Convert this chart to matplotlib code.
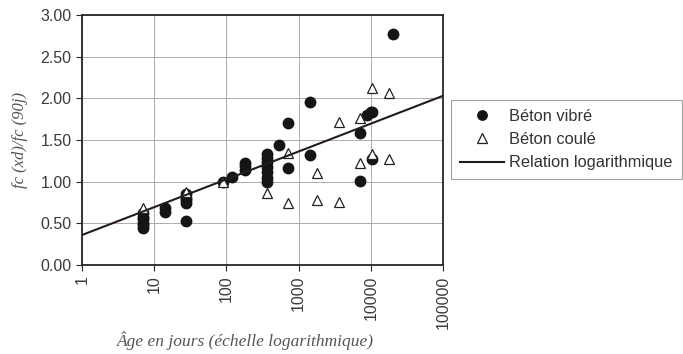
import matplotlib.pyplot as plt
import numpy as np

# Béton vibré (age in days, fc(xd)/fc(90j))
vibre_age = [7, 7, 7, 7, 7, 7, 14, 14, 28, 28, 28, 28, 28, 90, 120, 180, 180, 180,
             365, 365, 365, 365, 365, 365, 365, 540, 720, 720, 1440, 1440,
             7000, 7000, 9000, 10000, 10500, 10500, 20000]
vibre_val = [0.45, 0.50, 0.55, 0.58, 0.62, 0.48, 0.64, 0.68, 0.53, 0.74, 0.80, 0.85, 0.78,
             1.00, 1.06, 1.14, 1.19, 1.22,
             1.00, 1.05, 1.12, 1.18, 1.24, 1.29, 1.33, 1.44, 1.71, 1.16, 1.96, 1.32,
             1.59, 1.01, 1.80, 1.84, 1.84, 1.27, 2.77]

# Béton coulé
coule_age = [7, 28, 90, 365, 720, 720, 1800, 1800, 3600, 3600, 7000, 7000,
             10500, 10500, 18000, 18000]
coule_val = [0.68, 0.88, 1.00, 0.86, 1.35, 0.75, 1.10, 0.78, 1.72, 0.76, 1.77, 1.22,
             2.13, 1.33, 2.07, 1.27]

# logarithmic relation: y = a + b*log10(age)
line_a = 0.36
line_b = 0.334

xticks = [1, 10, 100, 1000, 10000, 100000]
yticks = [0.0, 0.5, 1.0, 1.5, 2.0, 2.5, 3.0]

plt.rcParams['font.family'] = ['Liberation Sans', 'DejaVu Sans']

fig = plt.figure(figsize=(6.83, 3.54), dpi=100)
ax = fig.add_axes([82 / 683, 1 - 265 / 354, (443 - 82) / 683, (265 - 15) / 354])

edge = '#2b2523'
ax.set_xscale('log')
ax.set_xlim(1, 100000)
ax.set_ylim(0, 3)
ax.grid(True, which='major', color='#b0aaa8', linewidth=0.7)
ax.set_axisbelow(True)

ax.plot(vibre_age, vibre_val, 'o', color='#151515', markersize=7.5,
        label='Béton vibré', zorder=3)
ax.plot(coule_age, coule_val, '^', markerfacecolor='white', markeredgecolor='#222222',
        markeredgewidth=0.9, markersize=7.5, label='Béton coulé', zorder=3)
xs = np.array([1, 100000])
ax.plot(xs, line_a + line_b * np.log10(xs), '-', color='#231c1a', linewidth=1.5,
        label='Relation logarithmique', zorder=4)

ax.set_xticks(xticks)
ax.set_xticklabels([str(t) for t in xticks], rotation=90)
ax.xaxis.set_minor_locator(plt.NullLocator())
ax.set_yticks(yticks)
ax.set_yticklabels(['%.2f' % t for t in yticks])
ax.tick_params(axis='both', labelsize=11.5, colors=edge, labelcolor='#3a3a3a',
               direction='out', length=4, width=0.8)
for s in ax.spines.values():
    s.set_color(edge)
    s.set_linewidth(1.3)

fig.text(20 / 683, 1 - 140 / 354, 'fc (xd)/fc (90j)', rotation=90, ha='center', va='center',
         family='Liberation Serif', style='italic', fontsize=12, color='#555555')
fig.text(245 / 683, 1 - 341 / 354, 'Âge en jours (échelle logarithmique)', ha='center',
         va='center', family='Liberation Serif', style='italic', fontsize=12.5, color='#555555')

leg = fig.legend(loc='upper left', bbox_to_anchor=(451 / 683, 1 - 100 / 354),
                 frameon=True, fancybox=False, fontsize=11.8, handlelength=2.7,
                 borderpad=0.55, labelspacing=0.5, handletextpad=0.3, borderaxespad=0,
                 markerscale=0.9)
leg.get_frame().set_edgecolor('#888888')
leg.get_frame().set_linewidth(0.8)
for t in leg.get_texts():
    t.set_color('#333333')

fig.savefig('out.png', dpi=100)
